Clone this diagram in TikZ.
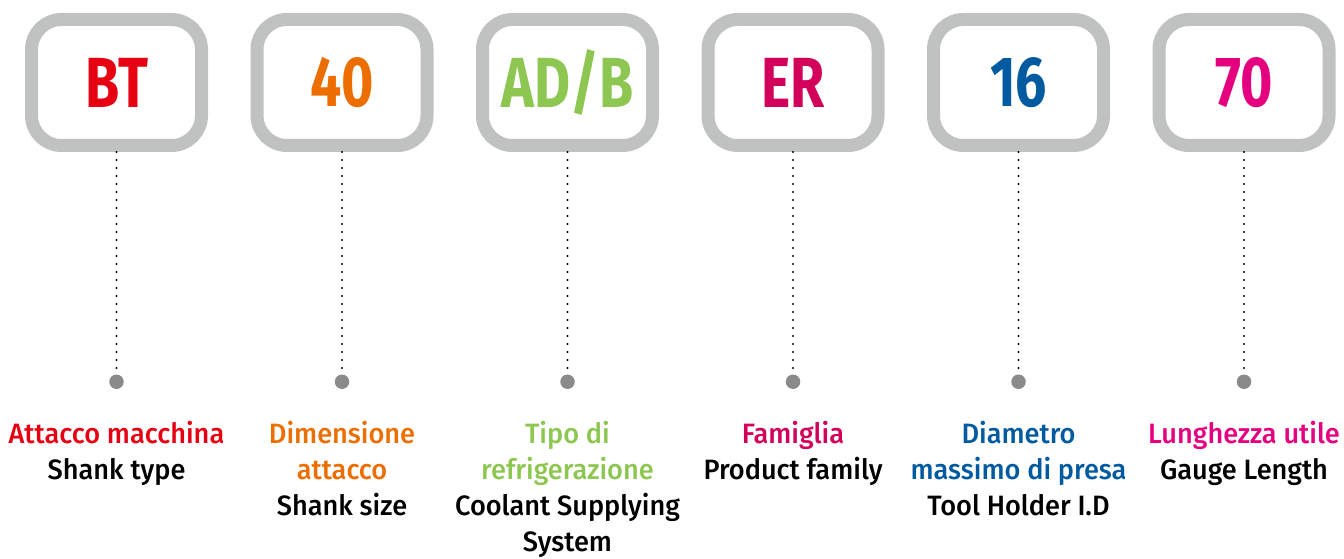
\documentclass[tikz,border=0pt]{standalone}
\usepackage{fontspec}
\setmainfont{Fira Sans}
\newfontfamily\labelfont[FakeStretch=0.97]{Fira Sans Medium}
\newfontfamily\codefont[FakeStretch=0.78]{Fira Sans}
\usetikzlibrary{positioning}
\definecolor{boxgray}{RGB}{192,193,193}
\definecolor{dotgray}{RGB}{138,138,138}
\definecolor{myred}{RGB}{230,0,18}
\definecolor{myorange}{RGB}{237,110,0}
\definecolor{mygreen}{RGB}{141,198,80}
\definecolor{mycrimson}{RGB}{210,0,90}
\definecolor{myblue}{RGB}{0,90,160}
\definecolor{mymagenta}{RGB}{228,0,127}
\tikzstyle{code}=[draw=boxgray,line width=13pt,rounded corners=30pt,minimum width=170pt,minimum height=126pt,font=\codefont\bfseries\fontsize{71}{71}\selectfont]
\tikzstyle{enddot}=[circle,fill=dotgray,inner sep=0pt,outer sep=0pt,minimum size=14.5pt]
\tikzstyle{desc}=[align=center,inner sep=0pt,font=\labelfont\fontsize{28}{36}\selectfont]
\tikzstyle{link}=[line width=2.3pt,line cap=round,dash pattern=on 0pt off 8pt,shorten >=6pt]

\begin{document}
\begin{tikzpicture}[x=1pt,y=-1pt]
      \useasboundingbox (0,0) rectangle (1344,559);
      \node (bt) at (116.5,82.5) [code, text=myred] {BT};
      \node (size) [code, text=myorange, right=42.5pt of bt] {40};
      \node (cool) [code, text=mygreen, right=42.5pt of size] {AD/B};
      \node (fam) [code, text=mycrimson, right=42.5pt of cool] {ER};
      \node (dia) [code, text=myblue, right=42.5pt of fam] {16};
      \node (len) [code, text=mymagenta, right=42.5pt of dia] {70};

      \node (btdot) [enddot, below=222.5pt of bt] {};
      \node (sizedot) [enddot, below=222.5pt of size] {};
      \node (cooldot) [enddot, below=222.5pt of cool] {};
      \node (famdot) [enddot, below=222.5pt of fam] {};
      \node (diadot) [enddot, below=222.5pt of dia] {};
      \node (lendot) [enddot, below=222.5pt of len] {};

      \node (btlab) [desc, below=32pt of btdot] {\textcolor{myred}{Attacco macchina}\\Shank type};
      \node (sizelab) [desc, below=32pt of sizedot] {\textcolor{myorange}{Dimensione}\\\textcolor{myorange}{attacco}\\Shank size};
      \node (coollab) [desc, below=32pt of cooldot] {\textcolor{mygreen}{Tipo di}\\\textcolor{mygreen}{refrigerazione}\\Coolant Supplying\\System};
      \node (famlab) [desc, below=32pt of famdot] {\textcolor{mycrimson}{Famiglia}\\Product family};
      \node (dialab) [desc, below=32pt of diadot] {\textcolor{myblue}{Diametro}\\\textcolor{myblue}{massimo di presa}\\Tool Holder I.D};
      \node (lenlab) [desc, below=32pt of lendot] {\textcolor{mymagenta}{Lunghezza utile}\\Gauge Length};

      \draw[link] (bt.south) -- (btdot.north);
      \draw[link] (size.south) -- (sizedot.north);
      \draw[link] (cool.south) -- (cooldot.north);
      \draw[link] (fam.south) -- (famdot.north);
      \draw[link] (dia.south) -- (diadot.north);
      \draw[link] (len.south) -- (lendot.north);
    \end{tikzpicture}
\end{document}
